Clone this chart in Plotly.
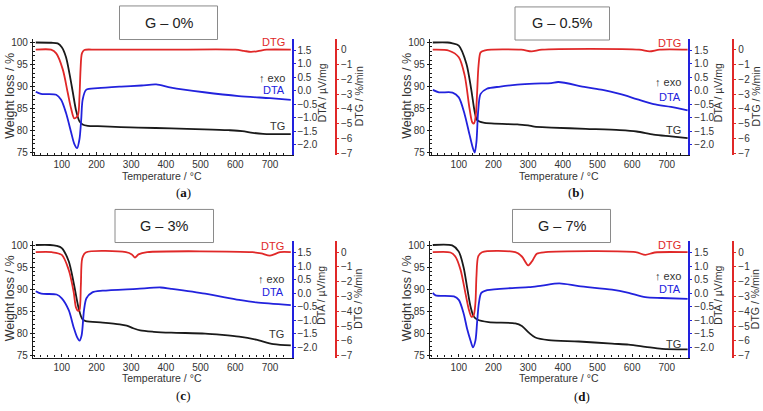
import plotly.graph_objects as go

# ---------------- data ----------------
panel_keys = ["a", "b", "c", "d"]
panel_titles = ["G – 0%", "G – 0.5%", "G – 3%", "G – 7%"]

x_ticks = [100, 200, 300, 400, 500, 600, 700]
tg_ticks = [75, 80, 85, 90, 95, 100]
dta_ticks = [-2.0, -1.5, -1.0, -0.5, 0.0, 0.5, 1.0, 1.5]
dtg_ticks = [-7, -6, -5, -4, -3, -2, -1, 0]

# (a) G - 0%
a_tg_T = [25, 70, 88, 100, 112, 122, 132, 141, 151, 160, 175, 204, 270, 320, 415, 510, 580, 620, 650, 680, 710, 760]
a_tg = [100, 99.95, 99.8, 98.9, 96.7, 93.0, 88.6, 84.6, 82.1, 81.4, 81.1, 81.0, 80.8, 80.7, 80.5, 80.3, 80.1, 79.9, 79.5, 79.25, 79.2, 79.2]
a_dta_T = [25, 40, 84, 98, 112, 127, 136, 144, 151, 156, 160, 170, 204, 271, 330, 372, 415, 510, 610, 700, 760]
a_dta = [-0.03, -0.11, -0.14, -0.33, -0.81, -1.54, -1.96, -2.12, -1.78, -1.05, -0.33, 0.04, 0.10, 0.16, 0.20, 0.24, 0.12, -0.05, -0.19, -0.27, -0.33]
a_dtg_T = [25, 69, 84, 103, 117, 127, 136, 146, 151, 154, 158, 165, 200, 400, 600, 625, 645, 665, 690, 760]
a_dtg = [0, 0, -0.25, -1.35, -2.9, -4.0, -4.65, -4.47, -3.13, -1.35, -0.25, -0.02, 0, 0, 0, -0.08, -0.15, -0.10, 0, 0]

# (b) G - 0.5%
b_tg_T = [25, 68, 82, 100, 122, 136, 146, 153, 171, 269, 300, 318, 367, 466, 564, 613, 662, 712, 760]
b_tg = [100, 100, 99.8, 99.3, 95.2, 89.3, 84.2, 82.4, 81.8, 81.4, 81.2, 80.9, 80.7, 80.4, 80.1, 79.8, 79.1, 78.7, 78.3]
b_dta_T = [25, 43, 82, 100, 117, 131, 141, 146, 151, 156, 163, 181, 220, 269, 318, 367, 387, 466, 515, 564, 613, 662, 712, 760]
b_dta = [0.04, -0.05, -0.06, -0.24, -0.87, -1.62, -2.13, -2.28, -1.88, -0.74, -0.11, 0.08, 0.16, 0.23, 0.27, 0.29, 0.33, 0.14, 0.04, -0.11, -0.30, -0.49, -0.59, -0.72]
b_dtg_T = [25, 72, 100, 117, 131, 139, 144, 149, 153, 157, 163, 176, 280, 310, 340, 620, 650, 680, 760]
b_dtg = [0, -0.07, -0.51, -1.74, -3.98, -4.92, -4.99, -4.43, -2.86, -1.07, -0.18, -0.04, 0, -0.12, 0, 0, -0.12, 0, 0]

# (c) G - 3%
c_tg_T = [25, 66, 85, 100, 120, 134, 149, 159, 169, 218, 267, 287, 306, 326, 365, 415, 513, 562, 611, 660, 710, 760]
c_tg = [100, 100, 99.8, 99.3, 96.3, 91.5, 85.5, 83.2, 82.7, 82.4, 82.0, 81.7, 81.1, 80.6, 80.3, 80.1, 79.9, 79.6, 79.2, 78.5, 77.5, 77.2]
c_dta_T = [25, 41, 85, 100, 120, 134, 144, 151, 157, 164, 171, 188, 218, 316, 385, 415, 513, 611, 660, 760]
c_dta = [0.08, -0.01, -0.04, -0.18, -0.62, -1.25, -1.62, -1.75, -1.56, -0.62, -0.18, 0.04, 0.10, 0.17, 0.22, 0.17, -0.01, -0.24, -0.33, -0.43]
c_dtg_T = [25, 71, 100, 120, 134, 141, 147, 151, 155, 159, 169, 285, 302, 311, 321, 346, 650, 675, 700, 729, 760]
c_dtg = [0, 0, -0.18, -1.2, -2.66, -3.75, -3.97, -3.9, -2.21, -0.41, -0.02, 0, -0.15, -0.36, -0.15, 0, 0, -0.08, -0.23, 0, 0]

# (d) G - 7%
d_tg_T = [25, 81, 100, 114, 124, 134, 143, 153, 186, 263, 282, 302, 321, 359, 446, 542, 590, 638, 686, 760]
d_tg = [100, 99.9, 98.5, 94.9, 90.4, 86.0, 83.8, 83.1, 82.5, 82.2, 81.6, 80.1, 79.0, 78.4, 78.1, 77.6, 77.4, 76.9, 76.4, 76.3]
d_dta_T = [25, 33, 86, 100, 114, 124, 134, 141, 148, 153, 158, 165, 182, 254, 302, 340, 390, 446, 542, 590, 638, 686, 760]
d_dta = [0.02, -0.07, -0.11, -0.24, -0.74, -1.31, -1.75, -2.0, -1.75, -1.05, -0.36, 0.02, 0.12, 0.20, 0.23, 0.29, 0.37, 0.27, 0.14, 0.02, -0.14, -0.17, -0.20]
d_dtg_T = [25, 76, 90, 105, 119, 129, 137, 143, 148, 151, 156, 167, 263, 282, 300, 311, 325, 350, 610, 638, 665, 760]
d_dtg = [0.0, -0.02, -0.29, -1.18, -2.75, -3.87, -4.38, -4.27, -3.42, -1.63, -0.29, 0, 0, -0.29, -0.89, -0.62, -0.11, 0, 0, -0.18, -0.02, 0]

data = {
    "a": (a_tg_T, a_tg, a_dta_T, a_dta, a_dtg_T, a_dtg),
    "b": (b_tg_T, b_tg, b_dta_T, b_dta, b_dtg_T, b_dtg),
    "c": (c_tg_T, c_tg, c_dta_T, c_dta, c_dtg_T, c_dtg),
    "d": (d_tg_T, d_tg, d_dta_T, d_dta, d_dtg_T, d_dtg),
}

# ---------------- layout geometry (pixels) ----------------
W, H = 763, 411
BLACK = "#1a1a1a"
RED = "#e02828"
BLUE = "#2222dd"
GREY = "#333333"
FONT = "Liberation Sans, Arial, DejaVu Sans, sans-serif"
TICKFONT = dict(size=10, color=GREY, family=FONT)


def px(x):
    return x / W


def py(y):
    return 1 - y / H


geo = {
    "a": dict(l=33, r=291.5, red=336, dy=0, dx=0),
    "b": dict(l=430, r=688.3, red=733.3, dy=0, dx=397),
    "c": dict(l=33, r=291.5, red=336, dy=205, dx=0),
    "d": dict(l=430, r=688.3, red=733.3, dy=205, dx=397),
}
box = {
    "a": (119.5, 217.5, 5, 39),
    "b": (515, 609.5, 6, 39.5),
    "c": (115, 213.5, 211, 244.5),
    "d": (512.5, 610.5, 211, 244.5),
}
sublabel = {"a": (183, 194), "b": (576, 194), "c": (183, 399), "d": (582, 400)}
curve_lbl = {
    "a": (287, 41, 77.5, 90, 127),
    "b": (683, 43, 81.5, 97, 131),
    "c": (286, 43, 76.5, 89.5, 132),
    "d": (683, 42, 73, 87, 142),
}

TOP, BOT = 38, 156
X_RANGE = [17, 762]
TG_RANGE = [74.44, 100.9]
DTA_RANGE = [-2.377, 1.94]
DTG_RANGE = [-7.134, 0.755]

fig = go.Figure()
annotations = []
shapes = []


def note(text, x, y, size, color, angle=0, xanchor="center", family=FONT):
    annotations.append(dict(text=text, x=px(x), y=py(y), xref="paper", yref="paper",
                            xanchor=xanchor, yanchor="middle", showarrow=False, textangle=angle,
                            font=dict(size=size, color=color, family=family)))


for i, k in enumerate(panel_keys):
    g = geo[k]
    n = i + 1
    xid = "x" if n == 1 else f"x{n}"
    ytg = 3 * i + 1
    yta, ytr = 3 * i + 2, 3 * i + 3
    yid_tg = "y" if ytg == 1 else f"y{ytg}"
    yid_ta = f"y{yta}"
    yid_tr = f"y{ytr}"
    tgT, tg, taT, ta, trT, tr = data[k]

    fig.add_trace(go.Scatter(x=trT, y=tr, xaxis=xid, yaxis=yid_tr, mode="lines",
                             line=dict(color=RED, width=1.8, shape="spline", smoothing=0.8),
                             showlegend=False, hoverinfo="skip"))
    fig.add_trace(go.Scatter(x=taT, y=ta, xaxis=xid, yaxis=yid_ta, mode="lines",
                             line=dict(color=BLUE, width=1.8, shape="spline", smoothing=0.8),
                             showlegend=False, hoverinfo="skip"))
    fig.add_trace(go.Scatter(x=tgT, y=tg, xaxis=xid, yaxis=yid_tg, mode="lines",
                             line=dict(color=BLACK, width=1.8, shape="spline", smoothing=0.8),
                             showlegend=False, hoverinfo="skip"))

    top, bot = TOP + g["dy"], BOT + g["dy"]
    ydom = [py(bot), py(top)]
    xname = "xaxis" if n == 1 else f"xaxis{n}"
    fig.layout[xname] = dict(
        domain=[px(g["l"]), px(g["r"])], range=X_RANGE, anchor=yid_tg,
        showline=True, linecolor=BLACK, linewidth=1.3, mirror=False,
        ticks="inside", ticklen=3, tickcolor=BLACK, tickvals=x_ticks,
        minor=dict(ticks="inside", ticklen=2, tickcolor=BLACK, tickvals=list(range(20, 761, 20))),
        showgrid=False, zeroline=False, tickfont=TICKFONT,
        fixedrange=True,
    )
    fig.layout["yaxis" if ytg == 1 else f"yaxis{ytg}"] = dict(
        domain=ydom, range=TG_RANGE, anchor=xid, side="left",
        showline=True, linecolor=BLACK, linewidth=1.3,
        ticks="outside", ticklen=2, tickcolor=BLACK, tickvals=tg_ticks,
        minor=dict(ticks="inside", ticklen=2, tickcolor=BLACK, tickvals=list(range(75, 101))),
        showgrid=False, zeroline=False, tickfont=TICKFONT,
        fixedrange=True,
    )
    fig.layout[f"yaxis{yta}"] = dict(
        overlaying=yid_tg, anchor=xid, side="right", range=DTA_RANGE,
        showline=True, linecolor=BLUE, linewidth=2,
        ticks="outside", ticklen=2, tickcolor=BLUE, tickvals=dta_ticks, tickformat=".1f",
        showgrid=False, zeroline=False, tickfont=TICKFONT,
        fixedrange=True,
    )
    fig.layout[f"yaxis{ytr}"] = dict(
        overlaying=yid_tg, anchor="free", position=px(g["red"]), side="right", range=DTG_RANGE,
        showline=True, linecolor=RED, linewidth=2,
        ticks="outside", ticklen=2, tickcolor=RED, tickvals=dtg_ticks,
        showgrid=False, zeroline=False, tickfont=TICKFONT,
        fixedrange=True,
    )

    # axis titles
    note("Weight loss / %", 10 + g["dx"], 96 + g["dy"], 12.5, GREY, angle=-90)
    note("DTA / µV/mg", g["r"] + 30, 93 + g["dy"], 10.5, GREY, angle=-90)
    note("DTG / %/min", g["red"] + 22.5, 97 + g["dy"], 10.5, GREY, angle=-90)
    note("Temperature / °C", (g["l"] + g["r"]) / 2, 177 + g["dy"], 10.5, GREY)

    # curve labels
    cx, yd, ye, ya, yt = curve_lbl[k]
    for txt, yy, col in (("DTG", yd, RED), ("↑ exo", ye, GREY), ("DTA", ya, BLUE), ("TG", yt, GREY)):
        note(txt, cx, yy + g["dy"], 11, col, xanchor="right")

    # title box
    x0, x1, y0, y1 = box[k]
    shapes.append(dict(type="rect", xref="paper", yref="paper", x0=px(x0), x1=px(x1),
                       y0=py(y1), y1=py(y0), line=dict(color="#8a8a8a", width=1),
                       fillcolor="white", layer="above"))
    note(panel_titles[i], (x0 + x1) / 2, (y0 + y1) / 2, 14.5, "#222222")

    # sub label
    sx, sy = sublabel[k]
    note(f"(<b>{k}</b>)", sx, sy, 13, "#111111",
         family="Liberation Serif, Times New Roman, serif")

fig.update_layout(
    width=W, height=H, margin=dict(l=0, r=0, t=0, b=0),
    paper_bgcolor="white", plot_bgcolor="white",
    showlegend=False, annotations=annotations, shapes=shapes,
)

fig.write_html("out.html")
